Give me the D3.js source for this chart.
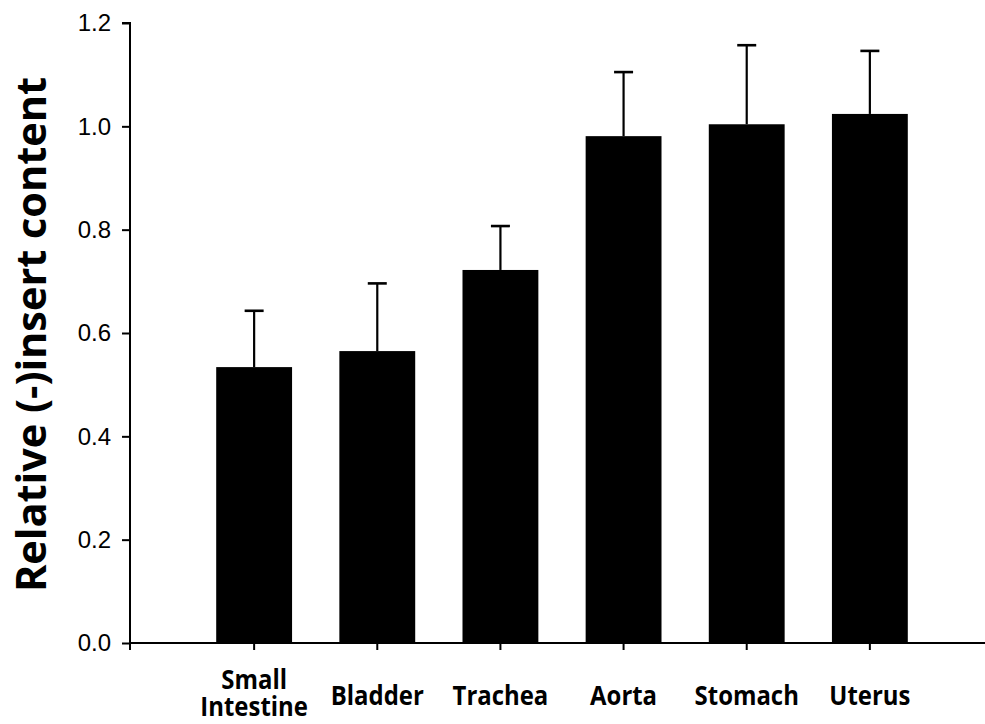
<!DOCTYPE html>
<html>
<head>
<meta charset="utf-8">
<script src="https://cdn.jsdelivr.net/npm/d3@7"></script>
<style>
  html, body { margin: 0; padding: 0; background: #fff; }
  svg { display: block; }
</style>
</head>
<body>
<svg id="chart" width="985" height="724"></svg>
<script>
// Tissue categories and mean relative (-)insert content with upper SD
const categories = [["Small", "Intestine"], ["Bladder"], ["Trachea"], ["Aorta"], ["Stomach"], ["Uterus"]];
const means = [0.534, 0.565, 0.722, 0.981, 1.004, 1.024];
const errors = [0.109, 0.131, 0.085, 0.124, 0.153, 0.122];
const yTicks = [0.0, 0.2, 0.4, 0.6, 0.8, 1.0, 1.2];
const yLabel = "Relative (-)insert content";

const svg = d3.select("#chart");
const plotLeft = 130, plotTop = 23, plotBottom = 643, plotRight = 994;

const names = categories.map(c => c.join(" "));
const x = d3.scaleBand().domain(names).range([plotLeft, plotRight])
  .paddingInner(0.384).paddingOuter(0.7);
const y = d3.scaleLinear().domain([0, 1.2]).range([plotBottom, plotTop]);

const data = names.map((n, i) => ({ name: n, lines: categories[i], mean: means[i], err: errors[i] }));

// bars
svg.append("g").selectAll("rect").data(data).join("rect")
  .attr("x", d => x(d.name))
  .attr("y", d => y(d.mean))
  .attr("width", x.bandwidth())
  .attr("height", d => y(0) - y(d.mean))
  .attr("fill", "#000");

// upper error bars
const eb = svg.append("g").attr("stroke", "#000").attr("stroke-width", 2.2);
eb.selectAll("line.v").data(data).join("line").attr("class", "v")
  .attr("x1", d => x(d.name) + x.bandwidth() / 2)
  .attr("x2", d => x(d.name) + x.bandwidth() / 2)
  .attr("y1", d => y(d.mean))
  .attr("y2", d => y(d.mean + d.err));
eb.selectAll("line.c").data(data).join("line").attr("class", "c")
  .attr("x1", d => x(d.name) + x.bandwidth() / 2 - 9.5)
  .attr("x2", d => x(d.name) + x.bandwidth() / 2 + 9.5)
  .attr("y1", d => y(d.mean + d.err))
  .attr("y2", d => y(d.mean + d.err))
  .attr("stroke-width", 2.6);

// y axis
const yAxis = svg.append("g").attr("transform", `translate(${plotLeft},0)`)
  .call(d3.axisLeft(y).tickValues(yTicks).tickFormat(d3.format(".1f")).tickSize(8).tickPadding(11));
yAxis.select(".domain").attr("d", `M-8,${plotTop}H0V${plotBottom}`).attr("stroke-width", 2);
yAxis.selectAll(".tick line").attr("stroke-width", 2);
yAxis.selectAll(".tick text")
  .attr("font-family", "'Liberation Sans', Arial, sans-serif")
  .attr("font-size", 24).attr("fill", "#000");

// x axis
const xAxis = svg.append("g").attr("transform", `translate(0,${plotBottom})`)
  .call(d3.axisBottom(x).tickSize(7).tickFormat(""));
xAxis.select(".domain").attr("d", `M${plotLeft},7V0H985`).attr("stroke-width", 2);
xAxis.selectAll(".tick line").attr("stroke-width", 2);

// category labels (possibly two lines), slightly condensed bold sans
const lab = svg.append("g")
  .attr("font-family", "'Open Sans', 'Noto Sans', sans-serif")
  .attr("font-weight", "bold").attr("font-size", 26).attr("fill", "#000")
  .attr("text-anchor", "middle");
data.forEach(d => {
  const cx = x(d.name) + x.bandwidth() / 2;
  const baselines = d.lines.length === 1 ? [705] : [689, 716];
  d.lines.forEach((s, k) => {
    lab.append("text")
      .attr("transform", `translate(${cx},${baselines[k]}) scale(0.92,1)`)
      .text(s);
  });
});

// y axis title
svg.append("text")
  .attr("transform", `translate(46,334.5) rotate(-90)`)
  .attr("text-anchor", "middle")
  .attr("font-family", "'Open Sans', 'Noto Sans', sans-serif")
  .attr("font-weight", "bold").attr("font-size", 42).attr("fill", "#000")
  .attr("textLength", 515).attr("lengthAdjust", "spacingAndGlyphs")
  .text(yLabel);
</script>
</body>
</html>
